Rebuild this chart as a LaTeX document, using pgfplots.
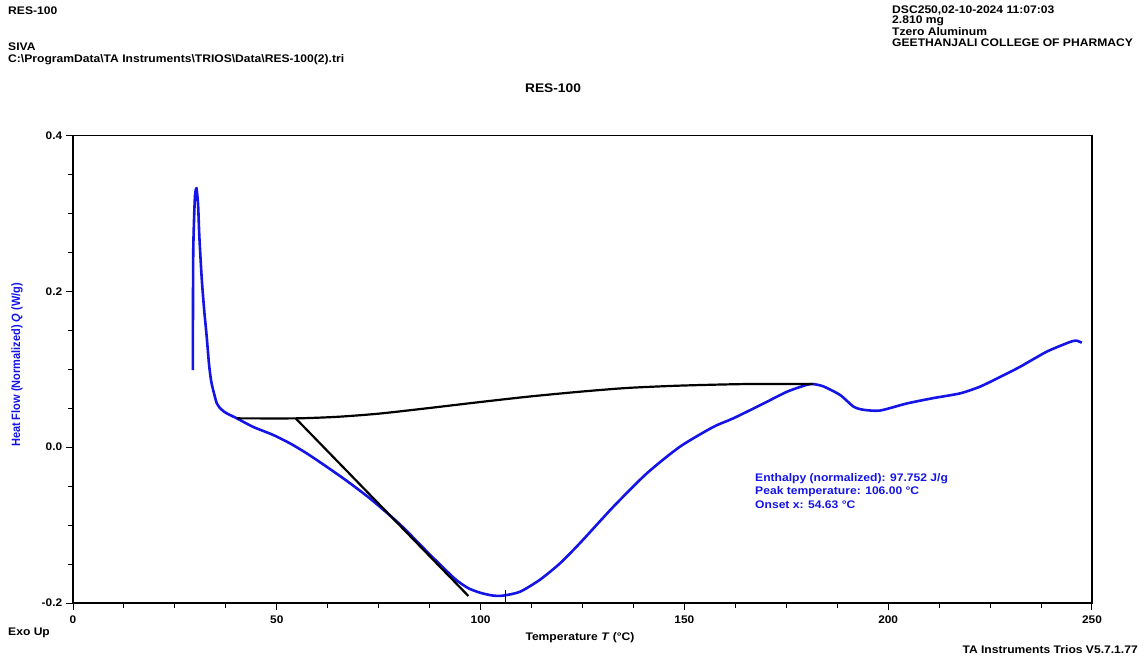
\documentclass[border=0pt]{standalone}
\usepackage{pgfplots}
\pgfplotsset{compat=1.18}
\usepackage{fontspec}
\setmainfont{Liberation Sans}
\definecolor{tablue}{RGB}{20,20,230}
\begin{document}
\begin{tikzpicture}[x=1pt,y=1pt]
\path[use as bounding box] (0,0) rectangle (1145,659);
\begin{axis}[
  at={(73pt,56pt)}, anchor=south west, scale only axis,
  width=1019pt, height=467.5pt,
  xmin=0, xmax=250, ymin=-0.2, ymax=0.4,
  xtick={0,50,100,150,200,250},
  ytick={-0.2,0,0.2,0.4},
  yticklabels={-0.2,0.0,0.2,0.4},
  minor x tick num=3, minor y tick num=3,
  tick align=outside, tick pos=left,
  major tick length=7pt, minor tick length=5pt,
  every tick/.style={black, line width=1pt},
  axis line style={line width=1.5pt},
  /pgf/number format/assume math mode=true,
  ticklabel style={font=\fontsize{11}{13}\selectfont\bfseries, xscale=1.08},
  xticklabel style={yshift=-2pt},
  clip=false,
]
\addplot[tablue, line width=2.6pt, smooth, tension=0.4] coordinates {
(29.4,0.099)(29.5,0.25)(29.9,0.32)(30.3,0.332)(30.7,0.31)(31.0,0.27)(31.6,0.215)(32.2,0.175)(32.8,0.142)(33.4,0.105)(34.0,0.082)(35.3,0.056)(36.5,0.048)(37.7,0.0435)(40.2,0.037)(44.2,0.026)(49.1,0.0157)(53.2,0.005)(57.3,-0.0078)(62.2,-0.025)(67.1,-0.043)(72.9,-0.066)(80.2,-0.099)(87.6,-0.138)(93.7,-0.169)(97,-0.181)(100,-0.187)(103.1,-0.1905)(105.6,-0.1905)(109.7,-0.1855)(114.6,-0.170)(119.5,-0.149)(124.4,-0.123)(132.6,-0.0763)(140.8,-0.0335)(148.9,0.0006)(157.1,0.026)(162.0,0.037)(169.4,0.056)(175.1,0.071)(180.0,0.080)(181.6,0.081)(184.1,0.078)(188.2,0.067)(191.5,0.052)(193.9,0.048)(198,0.047)(204.5,0.056)(211.1,0.063)(217.6,0.069)(222.5,0.0776)(227.4,0.090)(232.3,0.103)(238.9,0.1226)(244.6,0.135)(246.2,0.1367)(247.5,0.134)
};
\addplot[black, line width=2.2pt, smooth, tension=0.4] coordinates {
(40.2,0.037)(55,0.037)(65,0.039)(75,0.043)(87,0.050)(100,0.058)(112,0.065)(124,0.071)(136,0.076)(149,0.079)(165,0.081)(181.6,0.081)
};
\addplot[black, line width=2.2pt] coordinates {(54.63,0.037)(97,-0.191)};
\addplot[black, line width=0.8pt] coordinates {(106,-0.199)(106,-0.183)};
\end{axis}
\begin{scope}[every node/.style={inner sep=0pt, font=\fontsize{11}{13}\selectfont\bfseries, xscale=1.1}]
\node[anchor=west] at (8,648) {RES-100};
\node[anchor=west] at (8,612) {SIVA};
\node[anchor=west] at (8,599) {C:\textbackslash ProgramData\textbackslash TA Instruments\textbackslash TRIOS\textbackslash Data\textbackslash RES-100(2).tri};
\node[anchor=west] at (892,648) {DSC250,02-10-2024 11:07:03};
\node[anchor=west] at (892,638) {2.810 mg};
\node[anchor=west] at (892,627.5) {Tzero Aluminum};
\node[anchor=west] at (892,616) {GEETHANJALI COLLEGE OF PHARMACY};
\node[font=\fontsize{12.5}{14}\selectfont\bfseries] at (553,571) {RES-100};
\node[rotate=90, text=tablue] at (17,294) {Heat Flow (Normalized) \textit{Q} (W/g)};
\node at (580,21) {Temperature \textit{T} (°C)};
\node[anchor=west] at (8,26) {Exo Up};
\node[anchor=east] at (1138,9) {TA Instruments Trios V5.7.1.77};
\node[anchor=west, text=tablue] at (755,180) {Enthalpy (normalized): 97.752 J/g};
\node[anchor=west, text=tablue] at (755,167) {Peak temperature: 106.00 °C};
\node[anchor=west, text=tablue] at (755,154) {Onset x: 54.63 °C};
\end{scope}
\end{tikzpicture}
\end{document}
